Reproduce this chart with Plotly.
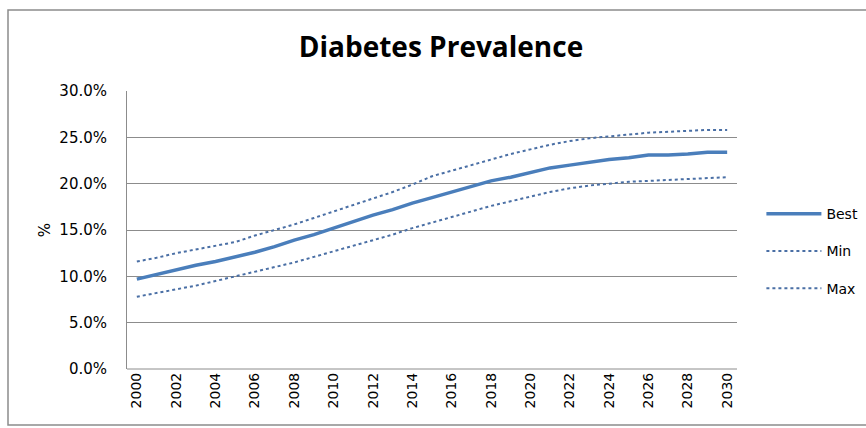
import plotly.graph_objects as go

years = list(range(2000, 2031))
best = [9.7, 10.2, 10.7, 11.2, 11.6, 12.1, 12.6, 13.2, 13.9, 14.5, 15.2,
        15.9, 16.6, 17.2, 17.9, 18.5, 19.1, 19.7, 20.3, 20.7, 21.2,
        21.7, 22.0, 22.3, 22.6, 22.8, 23.1, 23.1, 23.2, 23.4, 23.4]
min_vals = [7.8, 8.2, 8.6, 9.0, 9.5, 10.0, 10.5, 11.0, 11.5, 12.1, 12.7,
            13.3, 13.9, 14.5, 15.2, 15.8, 16.4, 17.0, 17.6, 18.1, 18.6,
            19.1, 19.5, 19.8, 20.0, 20.2, 20.3, 20.4, 20.5, 20.6, 20.7]
max_vals = [11.6, 12.0, 12.5, 12.9, 13.3, 13.7, 14.4, 15.0, 15.6, 16.3, 17.0,
            17.7, 18.4, 19.1, 19.9, 20.8, 21.4, 22.0, 22.6, 23.2, 23.7,
            24.2, 24.6, 24.9, 25.1, 25.3, 25.5, 25.6, 25.7, 25.8, 25.8]
x_ticks = list(range(2000, 2031, 2))
y_ticks = [0, 0.05, 0.10, 0.15, 0.20, 0.25, 0.30]

fig = go.Figure()
fig.add_trace(go.Scatter(x=years, y=[v / 100 for v in best], name="Best", mode="lines",
                         line=dict(color="#4A7EBB", width=3.5), legendgroup="a"))
fig.add_trace(go.Scatter(x=years, y=[v / 100 for v in min_vals], name="Min", mode="lines",
                         line=dict(color="#4A6FA5", width=2, dash="dot"), legendgroup="b"))
fig.add_trace(go.Scatter(x=years, y=[v / 100 for v in max_vals], name="Max", mode="lines",
                         line=dict(color="#4A6FA5", width=2, dash="dot"), legendgroup="c"))

fig.update_layout(
    width=866, height=428,
    margin=dict(l=127, r=129, t=91, b=59, autoexpand=False),
    paper_bgcolor="white", plot_bgcolor="white",
    title=dict(text="<b>Diabetes Prevalence</b>", x=441 / 866, xref="container",
               xanchor="center", y=1 - 47 / 428, yanchor="middle",
               font=dict(family="Open Sans", size=28, color="black")),
    font=dict(family="DejaVu Sans", size=14, color="black"),
    legend=dict(x=1.04, xanchor="left", y=0.424, yanchor="middle",
                itemwidth=55, tracegroupgap=16, font=dict(family="DejaVu Sans", size=14)),
    xaxis=dict(range=[1999.5, 2030.5], tickvals=x_ticks, tickangle=-90,
               showgrid=False, zeroline=False, showline=False,
               tickfont=dict(size=14), ticks=""),
    yaxis=dict(range=[0, 0.30], tickvals=y_ticks, tickformat=".1%",
               showgrid=True, gridcolor="#8C8C8C", gridwidth=1,
               zeroline=False, showline=True, linecolor="#8C8C8C", linewidth=1,
               ticks="", ticklabelstandoff=16, tickfont=dict(size=15),
               title=dict(text="%", standoff=5, font=dict(size=15))),
    shapes=[
        dict(type="rect", xref="paper", yref="paper",
             x0=(8 - 127) / 610, x1=(870 - 127) / 610,
             y0=(369 - 425) / 278, y1=(369 - 10) / 278,
             line=dict(color="#8C8C8C", width=1.5), fillcolor="rgba(0,0,0,0)", layer="below"),
        dict(type="line", xref="paper", yref="paper", x0=0, x1=1, y0=0, y1=0,
             line=dict(color="#8C8C8C", width=1)),
    ],
)

fig.write_html("out.html")
